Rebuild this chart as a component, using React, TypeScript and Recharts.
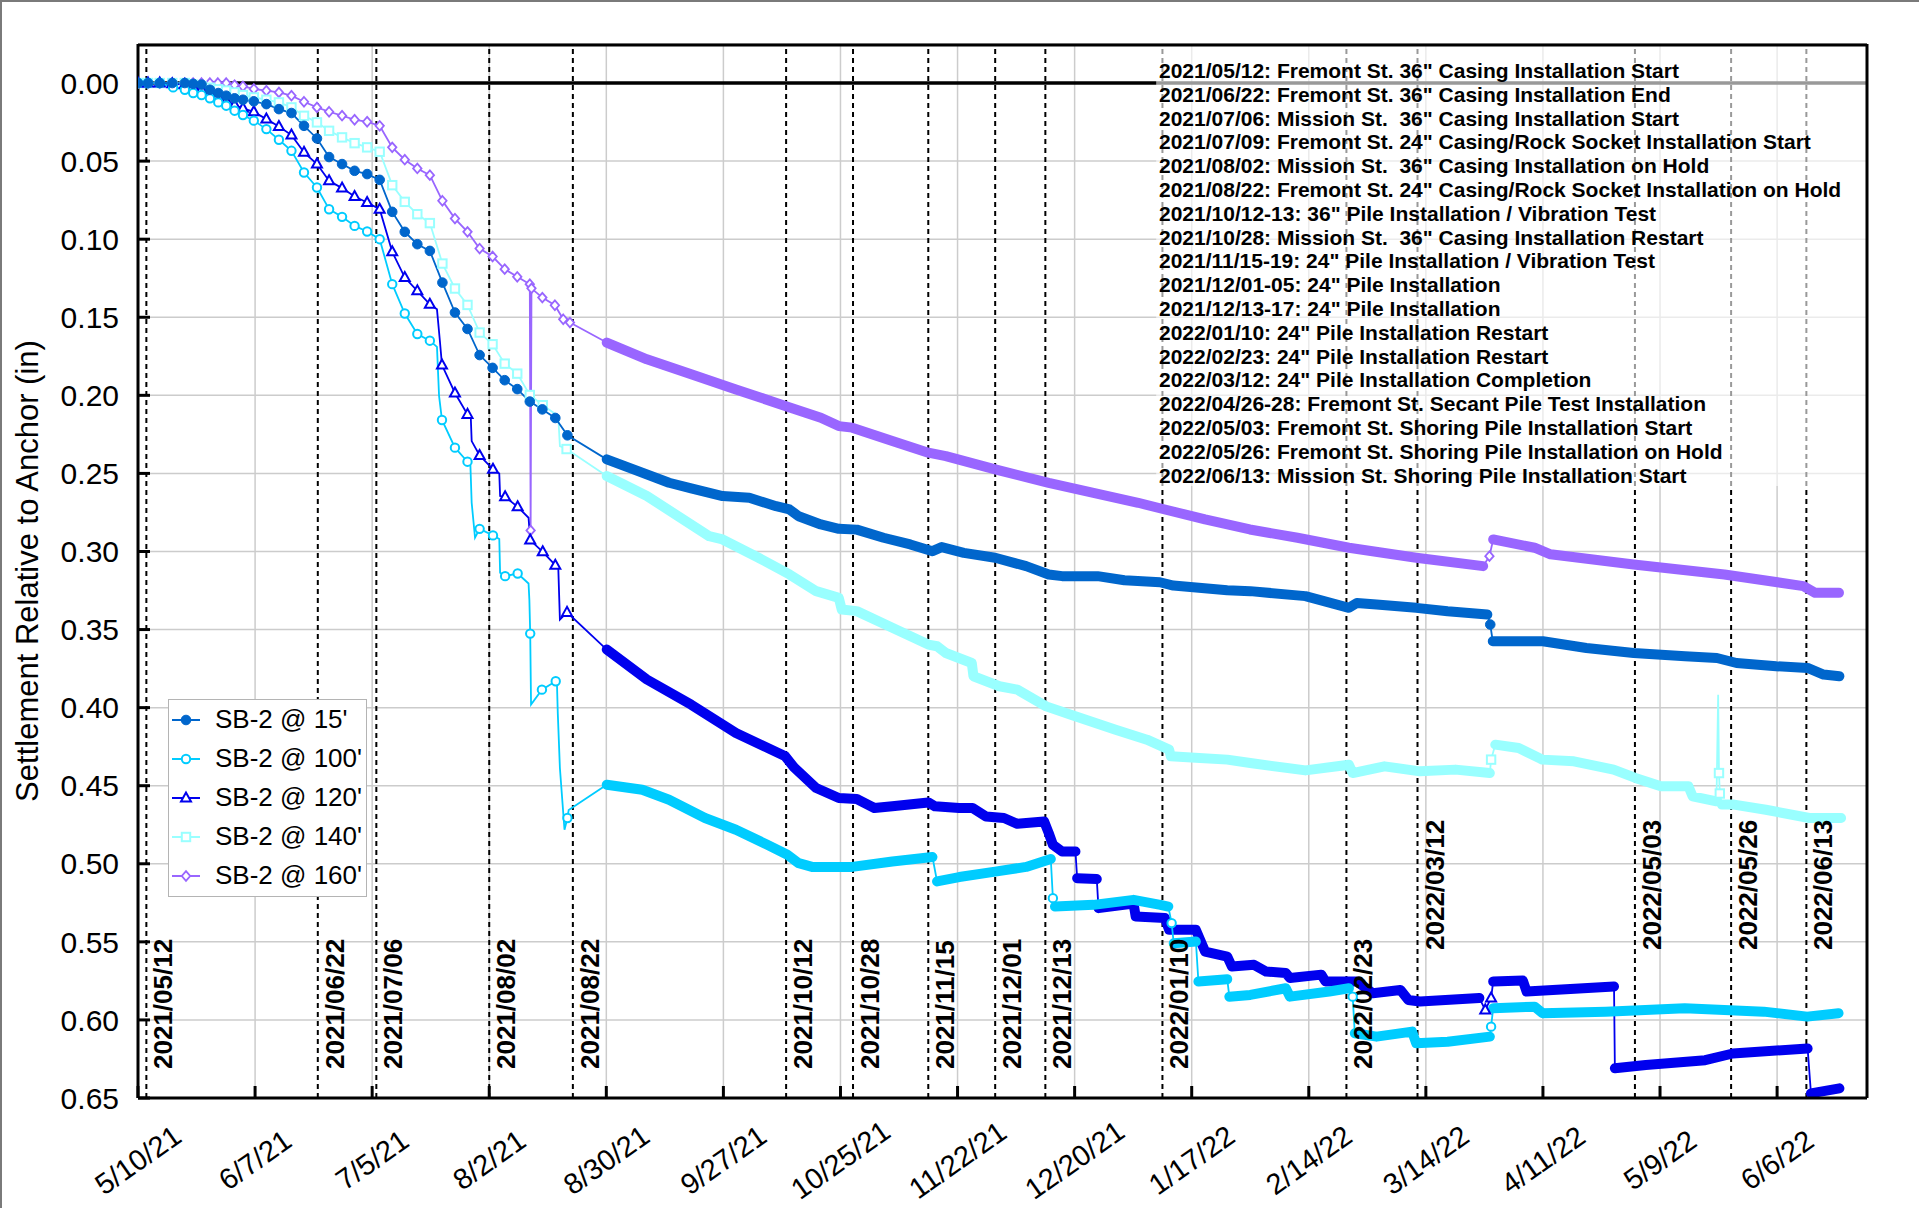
import React from "react";
import {
  LineChart,
  Line,
  XAxis,
  YAxis,
  CartesianGrid,
  ReferenceLine,
  ReferenceArea,
  Legend,
} from "recharts";

const FONT = '"Liberation Sans", Arial, Helvetica, sans-serif';
const START = Date.UTC(2021, 4, 10);
const DAY_MS = 86400000;
const dayOf = (iso: string) => Math.round((Date.parse(iso + "T00:00:00Z") - START) / DAY_MS);
const END_DAY = 413.5;

type Pt = [number, number | null];

// readings: [days since 2021-05-10, settlement (in)]
// early readings carry markers, late readings are the dense logger data
const sb15Early: Pt[] = [
  [0, 0], [2.4, 0], [5.2, 0], [8.2, 0], [11.2, 0], [13.2, 0.0005], [15.2, 0.001], [17.2, 0.0043],
  [19.2, 0.0064], [21.1, 0.0081], [23.1, 0.0098], [25.1, 0.0107], [27.7, 0.0117], [30.7, 0.0135],
  [33.7, 0.0167], [36.7, 0.0192], [39.7, 0.0274], [42.8, 0.0355], [45.7, 0.0474], [48.8, 0.0519],
  [51.8, 0.0562], [54.8, 0.0583], [57.8, 0.062], [60.8, 0.0825], [63.8, 0.0953], [66.8, 0.1032],
  [69.8, 0.1075], [72.8, 0.1278], [75.8, 0.147], [78.8, 0.1575], [81.7, 0.1742], [84.8, 0.1824],
  [87.7, 0.1903], [90.7, 0.196], [93.7, 0.204], [96.7, 0.209], [99.8, 0.2145], [102.7, 0.2256],
];
const sb15Late: Pt[] = [
  [112.1, 0.241], [118.5, 0.2474], [127, 0.256], [132.3, 0.2596], [139.8, 0.2645], [146.2, 0.2656],
  [152.6, 0.271], [155.8, 0.2731], [158, 0.2774], [163.3, 0.2827], [167.6, 0.2855], [171.9, 0.286],
  [178.3, 0.2912], [184.7, 0.2955], [190, 0.2998], [192.2, 0.2972], [197.5, 0.3009], [205, 0.304],
  [212.4, 0.3094], [217.8, 0.3147], [221, 0.3158], [229.5, 0.3158], [235.9, 0.3184], [244.4, 0.3197],
  [247.6, 0.3218], [260.5, 0.3248], [266, 0.3254], [279.2, 0.3286], [289.6, 0.3361], [291.5, 0.333],
  [296.2, 0.334], [305.7, 0.3361], [313.2, 0.3383], [322.7, 0.3404], [323.5, null],
  [324, 0.3575], [336, 0.3575], [346.4, 0.3618], [357.7, 0.365], [370, 0.3671], [377.6, 0.3682],
  [382.3, 0.3714], [391.8, 0.3735], [399.3, 0.3746], [403.1, 0.3788], [406.9, 0.3799],
];
const sb15Marks: Pt[] = [[323.4, 0.3468]];

const sb100Early: Pt[] = [
  [0, 0], [2.4, 0], [5.2, 0], [8.4, 0.0028], [11.2, 0.0043], [13.2, 0.0064], [15.2, 0.0077],
  [17.2, 0.0098], [19.2, 0.0124], [21.1, 0.0145], [23.1, 0.0177], [25.1, 0.0205], [27.7, 0.0241],
  [30.7, 0.0295], [33.7, 0.0363], [36.7, 0.0434], [39.7, 0.0573], [42.8, 0.0669], [45.7, 0.0808],
  [48.8, 0.0857], [51.8, 0.0915], [54.8, 0.0951], [57.8, 0.1], [60.8, 0.1288], [63.8, 0.1476],
  [66.8, 0.1607], [69.8, 0.165], [72.7, 0.2158], [75.8, 0.2335], [78.8, 0.2425], [81.7, 0.2855],
  [84.9, 0.2897], [87.8, 0.3158], [90.8, 0.3141], [93.8, 0.3526], [96.6, 0.3885], [99.9, 0.3831],
  [102.7, 0.4707],
];
const sb100Steps: Pt[] = [
  [71.5, 0.169], [72, 0.2004], [79.5, 0.245], [79.8, 0.2688], [80.6, 0.2912], [86.4, 0.292],
  [86.6, 0.3137], [93.4, 0.3205], [93.6, 0.331], [94, 0.398], [100.2, 0.385], [100.4, 0.404],
  [100.9, 0.4387], [102, 0.4782], [103, 0.4655],
];
const sb100Late: Pt[] = [
  [112.1, 0.4494], [120.6, 0.4526], [127, 0.459], [135.6, 0.4707], [143, 0.4782], [150.5, 0.4878],
  [155.3, 0.4942], [158, 0.4996], [161.2, 0.502], [170.8, 0.502], [180.4, 0.4985], [190, 0.4957],
  [190.5, null], [191.1, 0.5113], [196.4, 0.5085], [205, 0.505], [212.4, 0.502], [218.3, 0.4969],
  [218.8, null], [219.3, 0.5274], [228.5, 0.5263], [238.1, 0.5231], [244.5, 0.5263], [246.4, 0.5274],
  [247, null], [247.7, 0.5509], [253, 0.5498], [253.3, null], [253.6, 0.5754], [260.5, 0.5739],
  [260.8, null], [261, 0.5851], [266, 0.584], [274.5, 0.5797], [275.5, 0.5851], [284.9, 0.5818],
  [289.6, 0.5797], [290.5, null], [291, 0.6085], [296.2, 0.6107], [304.7, 0.6075], [305.7, 0.615],
  [313.2, 0.614], [323.3, 0.6107], [323.7, null], [324.1, 0.5925], [334, 0.5915], [335.9, 0.5957],
  [351, 0.5947], [369.9, 0.5925], [388.8, 0.5947], [399.2, 0.5979], [406.7, 0.5957],
];
const sb100Marks: Pt[] = [[218.8, 0.522], [247.2, 0.538], [290.5, 0.5851], [323.6, 0.6043]];

const sb120Early: Pt[] = [
  [0, 0], [2.4, 0], [5.2, 0], [8.2, 0.0005], [11.2, 0.001], [13.2, 0.002], [15.2, 0.004],
  [17.2, 0.006], [19.2, 0.0081], [21.1, 0.0113], [23.1, 0.0141], [25.1, 0.0162], [27.7, 0.0184],
  [30.7, 0.0231], [33.7, 0.0278], [36.7, 0.0333], [39.7, 0.0444], [42.8, 0.0519], [45.7, 0.0626],
  [48.8, 0.0673], [51.8, 0.0727], [54.8, 0.0765], [57.8, 0.0808], [60.8, 0.1081], [63.8, 0.1246],
  [66.8, 0.1331], [69.8, 0.1417], [72.7, 0.1806], [75.8, 0.1985], [78.8, 0.2122], [81.7, 0.2385],
  [84.9, 0.2474], [87.8, 0.265], [90.8, 0.2714], [93.8, 0.2927], [96.8, 0.3002], [99.8, 0.3088],
  [102.6, 0.339],
];
const sb120Steps: Pt[] = [
  [71.5, 0.1449], [72.2, 0.1652], [79.6, 0.215], [79.8, 0.2293], [86.4, 0.25], [86.6, 0.2645],
  [93.4, 0.2784], [100.5, 0.3094], [100.9, 0.3436],
];
const sb120Late: Pt[] = [
  [112.1, 0.3628], [121.7, 0.382], [132.3, 0.3981], [143, 0.4162], [154.8, 0.4312], [156.9, 0.4383],
  [162.2, 0.4515], [167.6, 0.4579], [171.9, 0.4585], [176.1, 0.4643], [180.4, 0.4632], [189, 0.4607],
  [190.6, 0.4632], [196.4, 0.4643], [199.6, 0.4643], [202.8, 0.4697], [207.1, 0.4707], [210.3, 0.4744],
  [216.7, 0.4729], [217.8, 0.4803], [218.8, 0.4878], [221, 0.4921], [224.2, 0.4921], [224.4, null],
  [224.6, 0.5092], [229.3, 0.5098], [229.5, null], [229.7, 0.5284], [238.1, 0.5255], [238.6, 0.5338],
  [245.6, 0.5348], [246.6, 0.5423], [253, 0.5423], [255.2, 0.5562], [260.5, 0.5594], [261.6, 0.5658],
  [266.9, 0.5647], [269.8, 0.569], [274.5, 0.57], [275.5, 0.5731], [283, 0.571], [284, 0.5754],
  [291.5, 0.5754], [295.3, 0.5829], [301.9, 0.5808], [303.8, 0.5872], [306.6, 0.5882], [320.8, 0.586],
  [322, null], [324.1, 0.5754], [331.2, 0.5748], [332.1, 0.5818], [353, 0.5786], [353.1, null],
  [353.2, 0.631], [360.6, 0.6289], [374.8, 0.6258], [381.4, 0.6215], [399.3, 0.6183], [399.7, null],
  [400.1, 0.647], [406.9, 0.6438],
];
const sb120Marks: Pt[] = [[322.2, 0.5936], [323.6, 0.586]];

const sb140Early: Pt[] = [
  [0, 0], [2.4, 0], [5.2, 0], [8.2, 0], [11.2, 0], [13.2, 0.001], [15.2, 0.002], [17.2, 0.003],
  [19.2, 0.004], [21.1, 0.0048], [23.1, 0.006], [25.1, 0.0077], [27.7, 0.0092], [30.7, 0.0107],
  [33.7, 0.0124], [36.7, 0.0156], [39.7, 0.021], [42.8, 0.0252], [45.7, 0.0306], [48.8, 0.0348],
  [51.8, 0.0385], [54.8, 0.0412], [57.8, 0.044], [60.8, 0.0654], [63.8, 0.0761], [66.8, 0.084],
  [69.8, 0.0897], [72.8, 0.1156], [75.8, 0.1316], [78.8, 0.1421], [81.7, 0.1598], [84.8, 0.1673],
  [87.7, 0.1797], [90.7, 0.1861], [93.7, 0.1998], [96.8, 0.2063], [102.5, 0.2344],
];
const sb140Steps: Pt[] = [[100.5, 0.2132], [100.9, 0.2325], [377.9, 0.3917]];
const sb140Late: Pt[] = [
  [112.1, 0.2517], [121.7, 0.2645], [129.2, 0.2774], [136.6, 0.2902], [139.8, 0.2923], [148.4, 0.304],
  [155.8, 0.3147], [162.2, 0.3254], [167.6, 0.3297], [168.3, 0.3372], [171.9, 0.3382], [180.4, 0.3489],
  [189, 0.3596], [191.1, 0.3607], [193.2, 0.365], [199.4, 0.3714], [199.8, 0.3799], [206, 0.3863],
  [210.3, 0.3885], [217.2, 0.3992], [223.1, 0.4045], [233.8, 0.4141], [241.3, 0.4205], [246.6, 0.4269],
  [247, 0.4312], [260.5, 0.4333], [266, 0.4355], [279.2, 0.4402], [289.6, 0.4366], [290.5, 0.4419],
  [298.1, 0.4376], [306.6, 0.4408], [315.1, 0.4397], [323.3, 0.4419], [323.9, null], [324.6, 0.4237],
  [330.2, 0.4259], [335.9, 0.4333], [343.4, 0.4344], [352.9, 0.4397], [358.1, 0.445], [364.2, 0.4504],
  [370.8, 0.4504], [371.8, 0.4568], [377.5, 0.46], [378.6, null], [378.8, 0.4621], [381.7, 0.4621],
  [389.3, 0.4654], [399.7, 0.4707], [407.3, 0.4707],
];
const sb140Marks: Pt[] = [[323.6, 0.4333], [378.1, 0.4419], [378.3, 0.455]];

const sb160Early: Pt[] = [
  [0, 0], [2.4, 0], [5.2, 0], [8.2, 0], [11.2, 0], [13.2, 0], [15.2, 0], [17.2, 0], [19.1, 0],
  [21.1, 0], [23.1, 0.0013], [25.1, 0.0021], [27.7, 0.0038], [30.7, 0.0049], [33.7, 0.006],
  [36.7, 0.0081], [39.7, 0.012], [42.8, 0.0156], [45.7, 0.0184], [48.8, 0.0209], [51.8, 0.0235],
  [54.8, 0.0248], [57.8, 0.0274], [60.8, 0.0412], [63.8, 0.0491], [66.8, 0.0547], [69.8, 0.059],
  [72.8, 0.0754], [75.8, 0.0868], [78.8, 0.0953], [81.7, 0.106], [84.8, 0.1111], [87.7, 0.1192],
  [90.7, 0.1241], [93.7, 0.1288], [93.9, 0.2865], [94.1, 0.1315], [96.7, 0.1374], [99.7, 0.1423],
  [101.7, 0.1513], [103.3, 0.1534],
];
const sb160Late: Pt[] = [
  [112.1, 0.1662], [121.7, 0.1769], [132.3, 0.1865], [143, 0.1962], [154.8, 0.2068], [163.3, 0.2143],
  [167.6, 0.2197], [170.8, 0.2207], [180.4, 0.2293], [189, 0.2367], [193.2, 0.2389], [205, 0.2474],
  [217.8, 0.256], [228.5, 0.2624], [239.2, 0.2688], [245.6, 0.2731], [255.2, 0.2795], [265.9, 0.2859],
  [277.3, 0.2912], [289.6, 0.2976], [305.7, 0.304], [321.7, 0.3094], [323, null], [324.1, 0.2923],
  [334, 0.2976], [337.8, 0.3018], [357.7, 0.3083], [379.4, 0.3147], [398.3, 0.3222], [401.1, 0.3265],
  [406.8, 0.3265],
];
const sb160Marks: Pt[] = [[323.2, 0.303]];

const xTickDates = [
  "2021-05-10", "2021-06-07", "2021-07-05", "2021-08-02", "2021-08-30", "2021-09-27", "2021-10-25",
  "2021-11-22", "2021-12-20", "2022-01-17", "2022-02-14", "2022-03-14", "2022-04-11", "2022-05-09",
  "2022-06-06",
];
const yTicks = [0, 0.05, 0.1, 0.15, 0.2, 0.25, 0.3, 0.35, 0.4, 0.45, 0.5, 0.55, 0.6, 0.65];

const eventDates = [
  "2021-05-12", "2021-06-22", "2021-07-06", "2021-08-02", "2021-08-22", "2021-10-12", "2021-10-28",
  "2021-11-15", "2021-12-01", "2021-12-13", "2022-01-10", "2022-02-23", "2022-03-12", "2022-05-03",
  "2022-05-26", "2022-06-13",
];
const raisedTags = ["2022-03-12", "2022-05-03", "2022-05-26", "2022-06-13"];

const eventNotes = [
  '2021/05/12: Fremont St. 36" Casing Installation Start',
  '2021/06/22: Fremont St. 36" Casing Installation End',
  '2021/07/06: Mission St.  36" Casing Installation Start',
  '2021/07/09: Fremont St. 24" Casing/Rock Socket Installation Start',
  '2021/08/02: Mission St.  36" Casing Installation on Hold',
  '2021/08/22: Fremont St. 24" Casing/Rock Socket Installation on Hold',
  '2021/10/12-13: 36" Pile Installation / Vibration Test',
  '2021/10/28: Mission St.  36" Casing Installation Restart',
  '2021/11/15-19: 24" Pile Installation / Vibration Test',
  '2021/12/01-05: 24" Pile Installation',
  '2021/12/13-17: 24" Pile Installation',
  '2022/01/10: 24" Pile Installation Restart',
  '2022/02/23: 24" Pile Installation Restart',
  '2022/03/12: 24" Pile Installation Completion',
  '2022/04/26-28: Fremont St. Secant Pile Test Installation',
  '2022/05/03: Fremont St. Shoring Pile Installation Start',
  '2022/05/26: Fremont St. Shoring Pile Installation on Hold',
  '2022/06/13: Mission St. Shoring Pile Installation Start',
];

type Shape = "disc" | "ring" | "tri" | "square" | "diamond";
const SERIES = [
  { name: "SB-2 @ 15'", color: "#0066cc", shape: "disc" as Shape, early: sb15Early, late: sb15Late, marks: sb15Marks, steps: [] as Pt[] },
  { name: "SB-2 @ 100'", color: "#00ccff", shape: "ring" as Shape, early: sb100Early, late: sb100Late, marks: sb100Marks, steps: sb100Steps },
  { name: "SB-2 @ 120'", color: "#0000ee", shape: "tri" as Shape, early: sb120Early, late: sb120Late, marks: sb120Marks, steps: sb120Steps },
  { name: "SB-2 @ 140'", color: "#99ffff", shape: "square" as Shape, early: sb140Early, late: sb140Late, marks: sb140Marks, steps: sb140Steps },
  { name: "SB-2 @ 160'", color: "#9966ff", shape: "diamond" as Shape, early: sb160Early, late: sb160Late, marks: sb160Marks, steps: [] as Pt[] },
];

const toRows = (pts: Pt[]) => pts.map(([x, y]) => ({ x, y }));
const thinRows = (s: (typeof SERIES)[number]) =>
  toRows(
    [...s.early, ...s.late.filter((p) => p[1] !== null), ...s.marks, ...s.steps].sort((a, b) => a[0] - b[0])
  );

const minorTicks: number[] = [];
for (let d = 7; d < END_DAY; d += 7) if (d % 28 !== 0) minorTicks.push(d);

const fmtDay = (d: number) => {
  const dt = new Date(START + d * DAY_MS);
  return `${dt.getUTCMonth() + 1}/${dt.getUTCDate()}/${String(dt.getUTCFullYear()).slice(2)}`;
};

function Marker({ cx, cy, shape, color }: { cx: number; cy: number; shape: Shape; color: string }) {
  if (cx == null || cy == null || isNaN(cx) || isNaN(cy)) return null;
  switch (shape) {
    case "disc":
      return <circle cx={cx} cy={cy} r={4.8} fill={color} stroke={color} strokeWidth={1} />;
    case "ring":
      return <circle cx={cx} cy={cy} r={4.2} fill="#fff" stroke={color} strokeWidth={2} />;
    case "tri":
      return (
        <polygon
          points={`${cx},${cy - 5.5} ${cx - 5},${cy + 3.5} ${cx + 5},${cy + 3.5}`}
          fill="#fff"
          stroke={color}
          strokeWidth={2}
        />
      );
    case "square":
      return <rect x={cx - 4.2} y={cy - 4.2} width={8.4} height={8.4} fill="#fff" stroke={color} strokeWidth={2} />;
    default:
      return (
        <polygon
          points={`${cx},${cy - 4.8} ${cx + 4.2},${cy} ${cx},${cy + 4.8} ${cx - 4.2},${cy}`}
          fill="#fff"
          stroke={color}
          strokeWidth={1.8}
        />
      );
  }
}

const DateTick = (props: any) => {
  const { x, y, payload } = props;
  const cy = y + 62;
  return (
    <text
      x={x}
      y={cy}
      textAnchor="middle"
      dominantBaseline="central"
      transform={`rotate(-35 ${x} ${cy})`}
      fontSize={29}
      fontFamily={FONT}
      fill="#000"
    >
      {fmtDay(payload.value)}
    </text>
  );
};

const EventTag = (props: any) => {
  const { viewBox, text, baseY } = props;
  if (!viewBox) return null;
  const x = viewBox.x + 26;
  return (
    <text
      x={x}
      y={baseY}
      transform={`rotate(-90 ${x} ${baseY})`}
      fontSize={26}
      fontWeight="bold"
      fontFamily={FONT}
      fill="#000"
    >
      {text}
    </text>
  );
};

const YTitle = (props: any) => {
  const { viewBox } = props;
  const x = 27;
  const y = viewBox ? viewBox.y + viewBox.height / 2 : 571;
  return (
    <text
      x={x}
      y={y}
      transform={`rotate(-90 ${x} ${y})`}
      textAnchor="middle"
      dominantBaseline="central"
      fontSize={31}
      fontFamily={FONT}
      fill="#000"
    >
      Settlement Relative to Anchor (in)
    </text>
  );
};

const renderLegend = () => (
  <div
    style={{
      width: 199,
      height: 198,
      boxSizing: "border-box",
      border: "1.5px solid #b4b4b4",
      background: "#fff",
      fontFamily: FONT,
      fontSize: 26,
      color: "#000",
    }}
  >
    {SERIES.map((s) => (
      <div key={s.name} style={{ height: 39, display: "flex", alignItems: "center" }}>
        <svg width={40} height={20} style={{ marginLeft: 2, marginRight: 4 }}>
          <line x1={1} y1={10} x2={29} y2={10} stroke={s.color} strokeWidth={2} />
          <Marker cx={15} cy={10} shape={s.shape} color={s.color} />
        </svg>
        <span style={{ whiteSpace: "nowrap" }}>{s.name}</span>
      </div>
    ))}
  </div>
);

const axisStroke = { stroke: "#000", strokeWidth: 3 };

export default function App() {
  const majorTicks = xTickDates.map(dayOf);
  const drawOrder = [...SERIES].reverse();
  return (
    <div
      style={{
        position: "absolute",
        left: 0,
        top: 0,
        width: 1919,
        height: 1208,
        background: "#fff",
        borderTop: "2px solid #7a7a7a",
        borderLeft: "2px solid #7a7a7a",
        boxSizing: "border-box",
        overflow: "hidden",
      }}
    >
      <div style={{ position: "absolute", left: -2, top: -2 }}>
        <LineChart width={1919} height={1208} margin={{ top: 44, right: 52, bottom: 0, left: 0 }}>
          <CartesianGrid stroke="#cccccc" strokeWidth={1.5} />
          <ReferenceLine y={0} stroke="#000" strokeWidth={3.5} />
          {eventDates.map((d) => (
            <ReferenceLine key={"ev" + d} x={dayOf(d)} stroke="#000" strokeWidth={2} strokeDasharray="5 4" />
          ))}

          {drawOrder.map((s) => [
            <Line
              key={s.name + "thin"}
              data={thinRows(s)}
              dataKey="y"
              type="linear"
              stroke={s.color}
              strokeWidth={1.8}
              dot={false}
              activeDot={false}
              legendType="none"
              isAnimationActive={false}
            />,
            <Line
              key={s.name + "band"}
              data={toRows(s.late)}
              dataKey="y"
              type="linear"
              stroke={s.color}
              strokeWidth={10}
              strokeLinecap="round"
              strokeLinejoin="round"
              connectNulls={false}
              dot={false}
              activeDot={false}
              legendType="none"
              isAnimationActive={false}
            />,
            <Line
              key={s.name + "marks"}
              data={toRows([...s.early, ...s.marks])}
              dataKey="y"
              type="linear"
              stroke="none"
              dot={(p: any) => <Marker key={s.name + p.index} cx={p.cx} cy={p.cy} shape={s.shape} color={s.color} />}
              activeDot={false}
              legendType="none"
              isAnimationActive={false}
            />,
          ])}

          <ReferenceArea
            x1={243.5}
            x2={END_DAY}
            y1={-0.025}
            y2={0.258}
            fill="#ffffff"
            fillOpacity={0.6}
            stroke="none"
            ifOverflow="hidden"
            zIndex={450}
          />

          {eventDates.map((d) => (
            <ReferenceLine
              key={"tag" + d}
              x={dayOf(d)}
              stroke="none"
              label={<EventTag text={d.replace(/-/g, "/")} baseY={raisedTags.includes(d) ? 950 : 1069} />}
            />
          ))}

          <XAxis
            dataKey="x"
            type="number"
            domain={[0, END_DAY]}
            allowDataOverflow
            ticks={majorTicks}
            interval={0}
            height={110}
            tickSize={-12}
            tickMargin={12}
            tickLine={axisStroke}
            axisLine={axisStroke}
            tick={<DateTick />}
          />
          <XAxis
            xAxisId="bMinor"
            type="number"
            domain={[0, END_DAY]}
            allowDataOverflow
            ticks={minorTicks}
            interval={0}
            mirror
            height={1}
            tickSize={6}
            tick={false}
            tickLine={axisStroke}
            axisLine={false}
          />
          <XAxis
            xAxisId="top"
            orientation="top"
            type="number"
            domain={[0, END_DAY]}
            allowDataOverflow
            ticks={majorTicks}
            interval={0}
            mirror
            height={1}
            tickSize={12}
            tick={false}
            tickLine={axisStroke}
            axisLine={axisStroke}
          />
          <XAxis
            xAxisId="tMinor"
            orientation="top"
            type="number"
            domain={[0, END_DAY]}
            allowDataOverflow
            ticks={minorTicks}
            interval={0}
            mirror
            height={1}
            tickSize={6}
            tick={false}
            tickLine={axisStroke}
            axisLine={false}
          />
          <YAxis
            type="number"
            reversed
            domain={[-0.025, 0.65]}
            allowDataOverflow
            ticks={yTicks}
            interval={0}
            width={138}
            tickSize={-12}
            tickMargin={31}
            tickLine={axisStroke}
            axisLine={axisStroke}
            tickFormatter={(v: number) => v.toFixed(2)}
            tick={{ fontSize: 30, fontFamily: FONT, fill: "#000" }}
            label={<YTitle />}
          />
          <YAxis
            yAxisId="right"
            orientation="right"
            type="number"
            reversed
            domain={[-0.025, 0.65]}
            allowDataOverflow
            ticks={yTicks}
            interval={0}
            mirror
            width={1}
            tickSize={12}
            tick={false}
            tickLine={axisStroke}
            axisLine={axisStroke}
          />
          <Legend
            layout="vertical"
            align="center"
            verticalAlign="middle"
            content={renderLegend}
            wrapperStyle={{ left: 168, top: 699, width: 199, height: 198 }}
          />
        </LineChart>
      </div>
      <div
        style={{
          position: "absolute",
          left: 1157,
          top: 57,
          fontFamily: FONT,
          fontWeight: "bold",
          fontSize: 21,
          lineHeight: "23.8px",
          color: "#000",
          whiteSpace: "pre",
          pointerEvents: "none",
        }}
      >
        {eventNotes.map((t) => (
          <div key={t}>{t}</div>
        ))}
      </div>
    </div>
  );
}
